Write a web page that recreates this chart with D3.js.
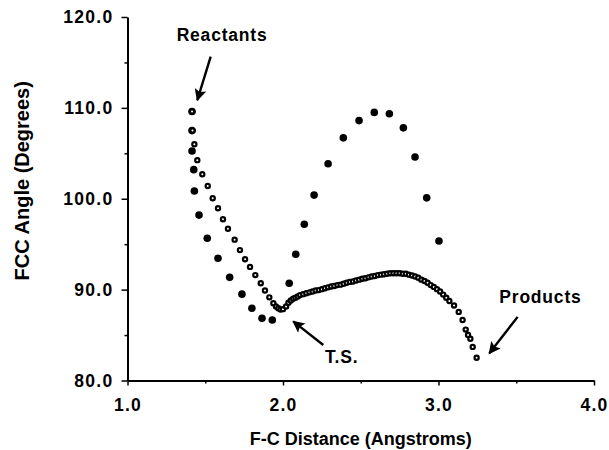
<!DOCTYPE html>
<html>
<head>
<meta charset="utf-8">
<script src="https://cdn.jsdelivr.net/npm/d3@7"></script>
<style>
  body { margin: 0; background: #fff; }
  text { font-family: "Liberation Sans", Arial, sans-serif; font-weight: bold; fill: #000; }
</style>
</head>
<body>
<div id="chart"></div>
<script>
// filled dots: distance (A), angle (deg)
var filledX = [1.415, 1.415, 1.415, 1.426, 1.43, 1.46, 1.513, 1.582, 1.657, 1.736, 1.80, 1.865, 1.931,
  2.04, 2.082, 2.137, 2.20, 2.29, 2.388, 2.489, 2.587, 2.684, 2.774, 2.849, 2.924, 3.003];
var filledY = [109.6, 107.5, 105.25, 103.2, 100.85, 98.2, 95.65, 93.45, 91.35, 89.5, 87.95, 86.85, 86.65,
  90.7, 93.9, 97.2, 100.4, 103.85, 106.7, 108.6, 109.5, 109.35, 107.8, 104.6, 100.1, 95.35];

// open dots
var openX = [1.415, 1.418, 1.43, 1.449, 1.481, 1.516, 1.548, 1.582, 1.614, 1.646, 1.689, 1.723, 1.756, 1.788,
  1.822, 1.857, 1.884, 1.912, 1.938, 1.955, 1.97, 1.984,
  2.00, 2.02, 2.035, 2.05, 2.065, 2.08, 2.095, 2.11, 2.13, 2.15, 2.17, 2.19, 2.21, 2.23, 2.25, 2.27,
  2.29, 2.31, 2.33, 2.35, 2.37, 2.39, 2.41, 2.43, 2.45, 2.47, 2.49, 2.51, 2.53, 2.55, 2.57, 2.59,
  2.61, 2.63, 2.65, 2.67, 2.69, 2.71, 2.73, 2.75, 2.77, 2.79, 2.81, 2.83, 2.85, 2.87, 2.89, 2.91,
  2.93, 2.95, 2.97, 2.99, 3.01, 3.03, 3.05, 3.07, 3.10, 3.13, 3.155, 3.175, 3.19, 3.205, 3.22, 3.245];
var openY = [109.6, 107.5, 106.0, 104.25, 102.7, 101.4, 100.05, 98.95, 97.75, 96.7, 95.5, 94.35, 93.35, 92.5,
  91.6, 90.7, 89.9, 89.15, 88.5, 88.15, 87.95, 87.8,
  87.85, 88.15, 88.55, 88.8, 89.0, 89.1, 89.25, 89.4, 89.5, 89.6, 89.7, 89.8, 89.9, 89.95, 90.05, 90.15,
  90.25, 90.35, 90.4, 90.5, 90.55, 90.65, 90.75, 90.85, 90.9, 91.0, 91.1, 91.2, 91.25, 91.35, 91.45, 91.5,
  91.6, 91.65, 91.7, 91.75, 91.8, 91.8, 91.8, 91.8, 91.75, 91.75, 91.65, 91.55, 91.45, 91.3, 91.1, 90.95,
  90.75, 90.5, 90.3, 90.05, 89.8, 89.45, 89.1, 88.75, 88.25, 87.55, 86.65, 85.6, 85.0, 84.6, 83.7, 82.5];

var xTicks = [1.0, 2.0, 3.0, 4.0];
var xMinor = [1.5, 2.5, 3.5];
var yTicks = [80, 90, 100, 110, 120];
var yMinor = [85, 95, 105, 115];

// labels with arrows, in data units
var notes = [
  { text: "Reactants", tx: 1.316, ty: 117.4, x1: 1.535, y1: 115.63, x2: 1.449, y2: 110.85 },
  { text: "T.S.", tx: 2.27, ty: 81.9, x1: 2.259, y1: 83.9, x2: 2.066, y2: 86.5 },
  { text: "Products", tx: 3.391, ty: 88.5, x1: 3.509, y1: 87.0, x2: 3.327, y2: 83.0 }
];

var margin = { top: 17, right: 15, bottom: 69.5, left: 127.5 },
  width = 609 - margin.left - margin.right,
  height = 450 - margin.top - margin.bottom;

var svg = d3.select("#chart")
  .append("svg")
  .attr("width", 609)
  .attr("height", 450)
  .append("g")
  .attr("transform", "translate(" + margin.left + "," + margin.top + ")");

var x = d3.scaleLinear().domain([1, 4]).range([0, width]);
var y = d3.scaleLinear().domain([80, 120]).range([height, 0]);

var fmt = d3.format(".1f");

// minor ticks first
svg.append("g")
  .attr("transform", "translate(0," + height + ")")
  .call(d3.axisBottom(x).tickValues(xMinor).tickSize(3).tickFormat(""))
  .call(function (g) { g.select(".domain").remove(); })
  .selectAll("line").attr("stroke-width", 1.5);

svg.append("g")
  .call(d3.axisLeft(y).tickValues(yMinor).tickSize(3).tickFormat(""))
  .call(function (g) { g.select(".domain").remove(); })
  .selectAll("line").attr("stroke-width", 1.5);

var xAxis = svg.append("g")
  .attr("transform", "translate(0," + height + ")")
  .call(d3.axisBottom(x).tickValues(xTicks).tickSize(5).tickSizeOuter(0).tickPadding(13).tickFormat(fmt));

var yAxis = svg.append("g")
  .call(d3.axisLeft(y).tickValues(yTicks).tickSize(6).tickSizeOuter(0).tickPadding(8).tickFormat(fmt));

[xAxis, yAxis].forEach(function (g) {
  g.select(".domain").attr("stroke-width", 2);
  g.selectAll(".tick line").attr("stroke-width", 1.5);
  g.selectAll(".tick text")
    .style("font-size", "17.5px")
    .style("font-weight", "bold")
    .style("font-family", "'Liberation Sans', Arial, sans-serif")
    .style("letter-spacing", "1.3px");
});

// axis titles
svg.append("text")
  .attr("x", (x(1) + x(4)) / 2 + 0)
  .attr("y", height + 64)
  .attr("text-anchor", "middle")
  .style("font-size", "18px")
  .text("F-C Distance (Angstroms)");

svg.append("text")
  .attr("transform", "translate(" + (-99) + "," + (y(100) - 18) + ") rotate(-90)")
  .attr("text-anchor", "middle")
  .style("font-size", "20px")
  .text("FCC Angle (Degrees)");

// dots
var filled = filledX.map(function (d, i) { return { x: d, y: filledY[i] }; });
var open = openX.map(function (d, i) { return { x: d, y: openY[i] }; });

svg.selectAll(".filled")
  .data(filled)
  .enter()
  .append("circle")
  .attr("class", "filled")
  .attr("cx", function (d) { return x(d.x); })
  .attr("cy", function (d) { return y(d.y); })
  .attr("r", 3.8)
  .attr("fill", "#000");

svg.selectAll(".open")
  .data(open)
  .enter()
  .append("circle")
  .attr("class", "open")
  .attr("cx", function (d) { return x(d.x); })
  .attr("cy", function (d) { return y(d.y); })
  .attr("r", 2.1)
  .attr("fill", "#fff")
  .attr("stroke", "#000")
  .attr("stroke-width", 2.2);

// annotations
svg.append("defs").append("marker")
  .attr("id", "head")
  .attr("viewBox", "0 0 10 10")
  .attr("refX", 9)
  .attr("refY", 5)
  .attr("markerWidth", 6)
  .attr("markerHeight", 5)
  .attr("markerUnits", "strokeWidth")
  .attr("orient", "auto")
  .append("path")
  .attr("d", "M0,0 L10,5 L0,10 L2,5 Z")
  .attr("fill", "#000");

svg.selectAll(".note-line")
  .data(notes)
  .enter()
  .append("line")
  .attr("x1", function (d) { return x(d.x1); })
  .attr("y1", function (d) { return y(d.y1); })
  .attr("x2", function (d) { return x(d.x2); })
  .attr("y2", function (d) { return y(d.y2); })
  .attr("stroke", "#000")
  .attr("stroke-width", 2.4)
  .attr("marker-end", "url(#head)");

svg.selectAll(".note-text")
  .data(notes)
  .enter()
  .append("text")
  .attr("x", function (d) { return x(d.tx); })
  .attr("y", function (d) { return y(d.ty); })
  .style("font-size", "17.5px")
  .style("letter-spacing", "0.8px")
  .text(function (d) { return d.text; });
</script>
</body>
</html>
